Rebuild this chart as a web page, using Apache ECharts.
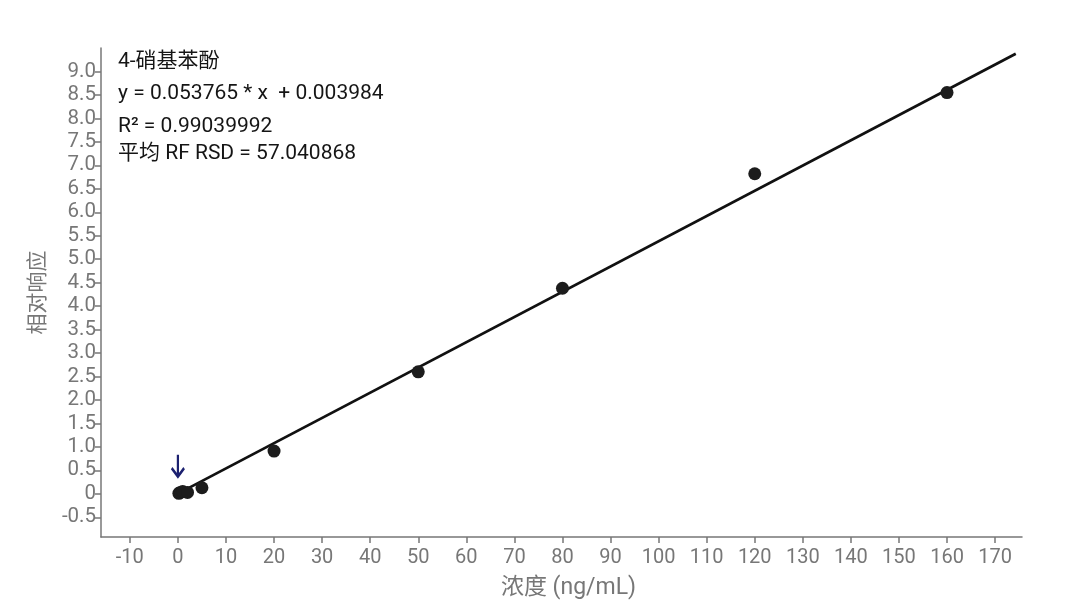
<!DOCTYPE html>
<html><head><meta charset="utf-8">
<script src="https://cdn.jsdelivr.net/npm/echarts@6/dist/echarts.min.js"></script>
<style>html,body{margin:0;padding:0;background:#fff}#c{width:1090px;height:606px}</style>
</head><body><div id="c"></div>
<script>
const concentrations = [0.2, 0.5, 1, 2, 5, 20, 50, 80, 120, 160];
const responses = [0.01, 0.03, 0.05, 0.03, 0.13, 0.91, 2.6, 4.38, 6.82, 8.55];
const slope = 0.053765, intercept = 0.003984;
const fitRange = [1, 174.3];
const xTicks = [-10,0,10,20,30,40,50,60,70,80,90,100,110,120,130,140,150,160,170];
const yTicks = [-0.5,0,0.5,1,1.5,2,2.5,3,3.5,4,4.5,5,5.5,6,6.5,7,7.5,8,8.5,9];
const titleLines = ['4-硝基苯酚','y = 0.053765 * x  + 0.003984','R² = 0.99039992','平均 RF RSD = 57.040868'];
const xName = '浓度 (ng/mL)', yName = '相对响应';

const chart = echarts.init(document.getElementById('c'));
const gray = '#777777';
const fam = 'Roboto, "Noto Sans CJK SC", sans-serif';
chart.setOption({
  animation:false,
  grid:{left:101,right:68,top:48,bottom:69},
  xAxis:{type:'value',min:-16,max:175.6,
    name:xName,nameLocation:'middle',nameGap:40,
    nameTextStyle:{color:gray,fontSize:23,fontFamily:fam,padding:[0,0,0,14]},
    axisLine:{show:true,onZero:false,lineStyle:{color:gray,width:1.5}},
    axisTick:{show:true,length:6,customValues:xTicks,lineStyle:{color:gray,width:1.5}},
    axisLabel:{customValues:xTicks,color:gray,fontSize:20,fontFamily:fam,margin:11},
    splitLine:{show:false}},
  yAxis:{type:'value',min:-0.92,max:9.5,
    name:yName,nameLocation:'middle',nameGap:52,
    nameTextStyle:{color:gray,fontSize:21,fontFamily:fam},
    axisLine:{show:true,onZero:false,lineStyle:{color:gray,width:1.5}},
    axisTick:{show:true,length:6,customValues:yTicks,lineStyle:{color:gray,width:1.5}},
    axisLabel:{customValues:yTicks,color:gray,fontSize:20.5,fontFamily:fam,margin:5,
      formatter:v=>v===0?'0':v.toFixed(1)},
    splitLine:{show:false}},
  graphic: titleLines.map((t,i)=>({type:'text',left:118,top:[51,83,116,143][i],
    style:{text:t,fill:'#151515',fontSize:21,fontFamily:fam}})),
  series:[
    {type:'line',data:fitRange.map(x=>[x,slope*x+intercept]),symbol:'none',
      lineStyle:{color:'#111',width:2.8},z:2,
      markPoint:{symbol:'path://M0,0 L0,18 M-7,11 L0,18 L7,11',symbolSize:[16,22],
        symbolKeepAspect:true,
        itemStyle:{color:'none',borderColor:'#1c2170',borderWidth:2.6},
        label:{show:false},
        data:[{coord:[0,0.6]}]}},
    {type:'scatter',data:concentrations.map((x,i)=>[x,responses[i]]),symbolSize:13,
      itemStyle:{color:'#1c1c1c',opacity:1},z:3}
  ]
});
</script></body></html>
